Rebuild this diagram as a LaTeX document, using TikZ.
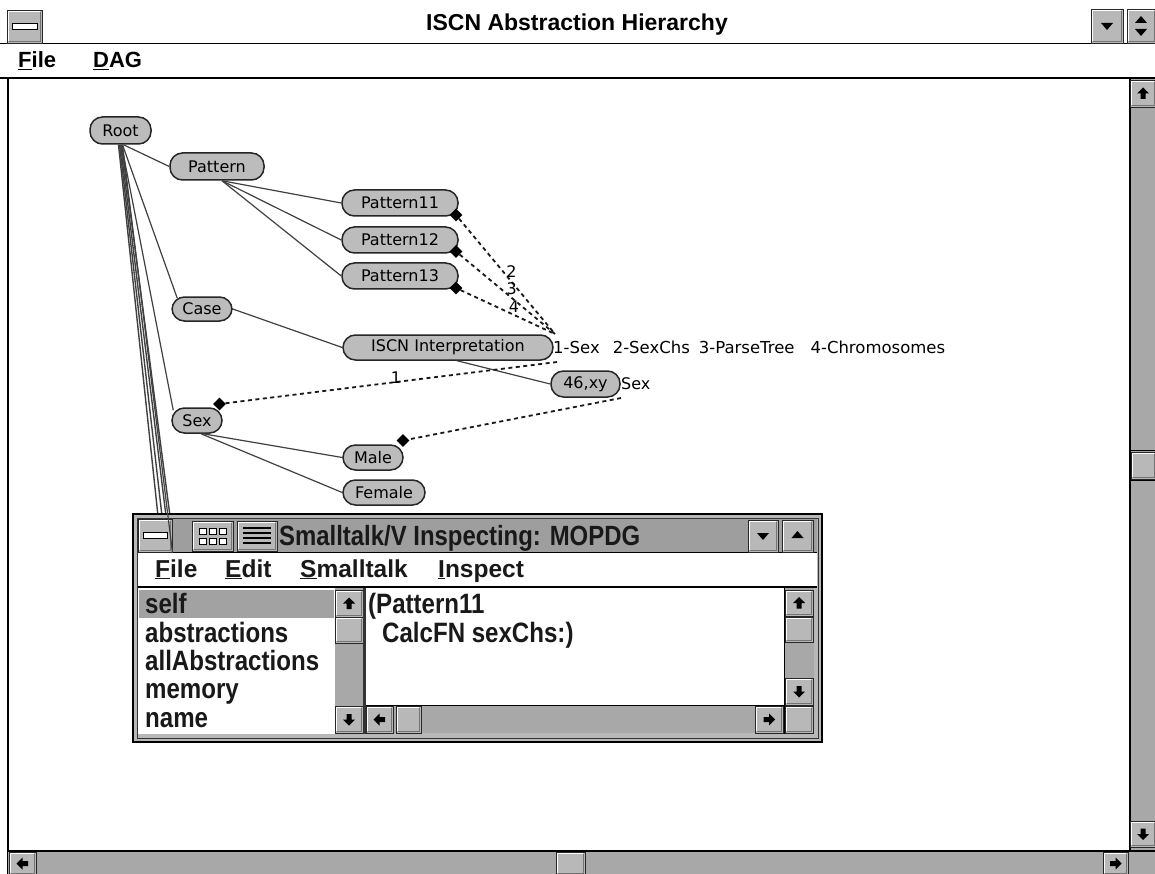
\documentclass[tikz,border=0pt]{standalone}
\usepackage{fontspec}
\setmainfont{DejaVu Sans}
\newfontfamily\dagfont{DejaVu Sans}
\newfontfamily\barfont{Liberation Sans}
\newfontfamily\uifont[FakeStretch=0.86]{Liberation Sans}
\usetikzlibrary{shapes.geometric}

\definecolor{nodegray}{HTML}{BCBCBC}
\definecolor{bargray}{HTML}{A8A8A8}
\definecolor{btngray}{HTML}{B8B8B8}
\definecolor{titlegray}{HTML}{9E9E9E}
\definecolor{selgray}{HTML}{A2A2A2}

% raised push button: x1 y1 x2 y2 (y grows downwards)
\newcommand\uibtn[4]{%
  \filldraw[fill=btngray, draw=black!85, line width=0.9pt] (#1,#2) rectangle (#3,#4);
  \draw[white, line width=1.2pt] (#1+1.6,#4-1.6) -- (#1+1.6,#2+1.6) -- (#3-1.6,#2+1.6);
  \draw[black!55, line width=1.2pt] (#1+1.6,#4-1.6) -- (#3-1.6,#4-1.6) -- (#3-1.6,#2+1.6);}
% block arrow glyph: centre x, centre y, rotation (0 = up)
\newcommand\uiarrow[3]{%
  \fill[black, shift={(#1,#2)}, rotate=#3] (0,-6) -- (6,0) -- (2.5,0) -- (2.5,5.5) -- (-2.5,5.5) -- (-2.5,0) -- (-6,0) -- cycle;}
% small triangle glyph: centre x, centre y, rotation (0 = up)
\newcommand\uitri[3]{%
  \fill[black, shift={(#1,#2)}, rotate=#3] (0,-4) -- (6,3) -- (-6,3) -- cycle;}

\tikzset{
  dagnode/.style={draw=black!85, line width=1.5pt, fill=nodegray, rounded corners=12.5pt,
    minimum height=26pt, inner sep=0pt, text=black,
    font=\dagfont\fontsize{16}{18}\selectfont},
  tree/.style={draw=black!75, line width=1.2pt},
  link/.style={draw=black!90, line width=1.8pt, dash pattern=on 4pt off 3.5pt},
  handle/.style={diamond, fill=black, inner sep=0pt, minimum size=13pt},
  linklabel/.style={font=\dagfont\fontsize{16}{18}\selectfont, inner sep=1pt, text=black},
  mainmenu/.style={font=\barfont\bfseries\fontsize{22}{24}\selectfont, anchor=base west, inner sep=0pt},
  inspmenu/.style={font=\barfont\bfseries\fontsize{24.5}{28}\selectfont, anchor=base west, inner sep=0pt, text=black!90},
  insptext/.style={font=\uifont\bfseries\fontsize{28}{30}\selectfont, anchor=base west, inner sep=0pt, text=black!90},
}

\begin{document}
\begin{tikzpicture}[x=1pt,y=-1pt]
\useasboundingbox (0,0) rectangle (1155,874);
\fill[white] (0,0) rectangle (1155,874);

% ---------- main window title bar and menu ----------
\draw[line width=1.5pt] (0,43.5) -- (1155,43.5);
\draw[line width=2pt] (0,78.5) -- (1155,78.5);
\uibtn{7}{10}{42}{43}
\filldraw[fill=white, draw=black, line width=1pt] (12,23.5) rectangle (37,29.5);
\node[font=\barfont\bfseries\fontsize{23}{26}\selectfont] (title) at (577,25) {ISCN Abstraction Hierarchy};
\uibtn{1091}{9}{1123}{43}
\uitri{1107}{26}{180}
\uibtn{1127}{9}{1156}{43}
\uitri{1141}{20}{0}
\uitri{1141}{32}{180}

\node[mainmenu] (mfile) at (18,68) {\underline{F}ile};
\node[mainmenu] (mdag) at (93,68) {\underline{D}AG};

% ---------- canvas frame and scroll bars ----------
\draw[line width=1.5pt] (8,78) -- (8,874);
\fill[bargray] (1130,79) rectangle (1155,874);
\draw[line width=1.5pt] (1130,79) -- (1130,851);
\uibtn{1130}{80}{1156}{107}
\uiarrow{1143}{93.5}{0}
\uibtn{1131}{452}{1156}{479}
\draw[line width=1.5pt] (1130,450.5) -- (1155,450.5) (1130,480.5) -- (1155,480.5);
\uibtn{1130}{821}{1156}{847}
\uiarrow{1143}{834}{180}
\fill[bargray] (8,851) rectangle (1130,874);
\draw[line width=1.5pt] (8,851) -- (1155,851);
\uibtn{9}{852}{36}{875}
\uiarrow{22.5}{863.5}{90}
\uibtn{556}{852}{585}{875}
\uibtn{1103}{852}{1128}{875}
\uiarrow{1115.5}{863.5}{-90}

% ---------- abstraction DAG ----------
\node[dagnode, minimum width=61pt, minimum height=27pt] (root) at (120.5,130.5) {Root};
\node[dagnode, minimum width=94pt, minimum height=27pt] (pattern) at (217,166.5) {Pattern};
\node[dagnode, minimum width=116pt] (p11) at (400,203) {Pattern11};
\node[dagnode, minimum width=116pt] (p12) at (400,240) {Pattern12};
\node[dagnode, minimum width=116pt] (p13) at (400,276) {Pattern13};
\node[dagnode, minimum width=60pt, minimum height=24pt] (case) at (202,309) {Case};
\node[dagnode, minimum width=210pt, minimum height=25pt] (iscn) at (448,347.5) {ISCN Interpretation};
\node[dagnode, minimum width=69pt] (xy) at (585.5,384) {46,xy};
\node[dagnode, minimum width=50pt, minimum height=25pt] (sex) at (197,420.5) {Sex};
\node[dagnode, minimum width=60pt, minimum height=25pt] (male) at (373,457.5) {Male};
\node[dagnode, minimum width=82pt, minimum height=25pt] (female) at (384,492.5) {Female};

% slot handles
\node[handle] (h11) at (456,215) {};
\node[handle] (h12) at (456,251.5) {};
\node[handle] (h13) at (456,288) {};
\node[handle] (hsex) at (219.5,404) {};
\node[handle] (hmale) at (403,440.5) {};

% free ends of the slot links and of edges running under the inspector
\coordinate (slotsA) at (555,334);
\coordinate (slotsB) at (557,362);
\coordinate (slotsC) at (621,398);
\coordinate (under1) at (158,516);
\coordinate (under2) at (162,516);
\coordinate (under3) at (166,516);
\coordinate (under4) at (170,516);
\coordinate (under5) at (172.5,553);

% slot descriptions
\node[linklabel, anchor=west, font=\dagfont\fontsize{16.5}{18}\selectfont] (slots) at (552,347)
  {1-Sex\hspace{13pt}2-SexChs\hspace{9pt}3-ParseTree\hspace{16pt}4-Chromosomes};
\node[linklabel, anchor=west] (xyslot) at (620,383.5) {Sex};

% generalisation edges
\draw[tree] ([xshift=3pt]root.south) -- (pattern.west);
\draw[tree] ([xshift=5pt]pattern.south) -- (p11.west);
\draw[tree] ([xshift=5pt]pattern.south) -- (p12.west);
\draw[tree] ([xshift=5pt]pattern.south) -- (p13.west);
\draw[tree] ([xshift=2pt]root.south) -- ([xshift=6pt,yshift=-2pt]case.north west);
\draw[tree] (case.east) -- (iscn.west);
\draw[tree] ([xshift=9pt]iscn.south) -- (xy.west);
\draw[tree] ([xshift=1pt]root.south) -- ([xshift=2pt,yshift=-3pt]sex.north west);
\draw[tree] ([xshift=6pt]sex.south) -- (male.west);
\draw[tree] ([xshift=4pt]sex.south) -- (female.west);
\foreach \k/\dx in {1/-2,2/-1,3/0,4/1}
  \draw[tree, line width=1.4pt] ([xshift=\dx pt]root.south) -- (under\k);

% slot links
\draw[link] (h11) -- node[linklabel, pos=0.545, yshift=10pt] (l2) {2} (slotsA);
\draw[link] (h12) -- node[linklabel, pos=0.545, yshift=9.5pt] (l3) {3} (slotsA);
\draw[link] (h13) -- node[linklabel, pos=0.566, yshift=8pt] (l4) {4} (slotsA);
\draw[link] (slotsB) -- node[linklabel, pos=0.486, yshift=4.5pt] (l1) {1} (hsex);
\draw[link] (slotsC) -- (hmale);

% ---------- inspector window ----------
\filldraw[fill=btngray, draw=black, line width=1.2pt] (133,514) rectangle (822,742);
\draw[black!80, line width=0.8pt] (137,518) rectangle (818,738);
\fill[titlegray] (138,519) rectangle (817,552);
\draw[line width=1.2pt] (138,552.5) -- (817,552.5);
\uibtn{138}{519}{172}{552}
\filldraw[fill=white, draw=black, line width=1pt] (143,532) rectangle (167,538.5);
\uibtn{192}{521}{233}{551}
\foreach \cx in {199,209,219}
  \foreach \cy in {528,538}
    \filldraw[fill=white, draw=black, line width=0.9pt] (\cx,\cy) rectangle (\cx+7,\cy+6);
\uibtn{237}{521}{277}{551}
\foreach \ly in {528,533,538,543}
  \draw[line width=1.3pt] (243,\ly) -- (271,\ly);
\node[font=\uifont\bfseries\fontsize{27.8}{30}\selectfont, anchor=base west, inner sep=0pt, text=black!90]
  (insptitle) at (279,545) {Smalltalk/V Inspecting: MOPDG};
\uibtn{748}{520}{778}{552}
\uitri{763}{536}{180}
\uibtn{782}{520}{813}{552}
\uitri{797.5}{535}{0}

% inspector menu bar
\fill[white] (138,553) rectangle (817,586);
\draw[line width=1.6pt] (138,587) -- (817,587);
\node[inspmenu] (ifile) at (155,577) {\underline{F}ile};
\node[inspmenu] (iedit) at (225,577) {\underline{E}dit};
\node[inspmenu] (ismall) at (300,577) {\underline{S}malltalk};
\node[inspmenu] (iinsp) at (438,577) {\underline{I}nspect};

% field list pane
\fill[white] (138,588) rectangle (335,734);
\fill[selgray] (139,590) rectangle (334,618);
\node[insptext] (fself) at (145,613) {self};
\node[insptext] (fabs) at (145,642) {abstractions};
\node[insptext] (fall) at (145,670) {allAbstractions};
\node[insptext] (fmem) at (145,698) {memory};
\node[insptext] (fname) at (145,727) {name};
\fill[bargray] (335,588) rectangle (363,734);
\uibtn{335}{590}{363}{617}
\uiarrow{349}{603.5}{0}
\uibtn{335}{617}{363}{643}
\uibtn{335}{706}{363}{733}
\uiarrow{349}{719.5}{180}
\fill[black!80] (363,588) rectangle (366,734);

% value pane
\fill[white] (366,588) rectangle (784,705);
\node[insptext] (vline1) at (368,613) {(Pattern11};
\node[insptext] (vline2) at (382,642) {CalcFN sexChs:)};
\fill[bargray] (784,588) rectangle (814,734);
\draw[line width=1pt] (784,588) -- (784,734);
\uibtn{785}{590}{813}{616}
\uiarrow{799}{603}{0}
\uibtn{785}{617}{813}{642}
\uibtn{785}{678}{813}{705}
\uiarrow{799}{691.5}{180}
\fill[bargray] (366,706) rectangle (784,733);
\draw[line width=1pt] (366,705.5) -- (784,705.5);
\uibtn{366}{706}{393}{733}
\uiarrow{379.5}{719.5}{90}
\uibtn{396}{706}{421}{733}
\uibtn{755}{706}{783}{733}
\uiarrow{769}{719.5}{-90}
\uibtn{785}{706}{813}{733}

% an edge that is repainted across the inspector title bar
\draw[tree] ([xshift=2pt]root.south) -- (under5);
\end{tikzpicture}
\end{document}
